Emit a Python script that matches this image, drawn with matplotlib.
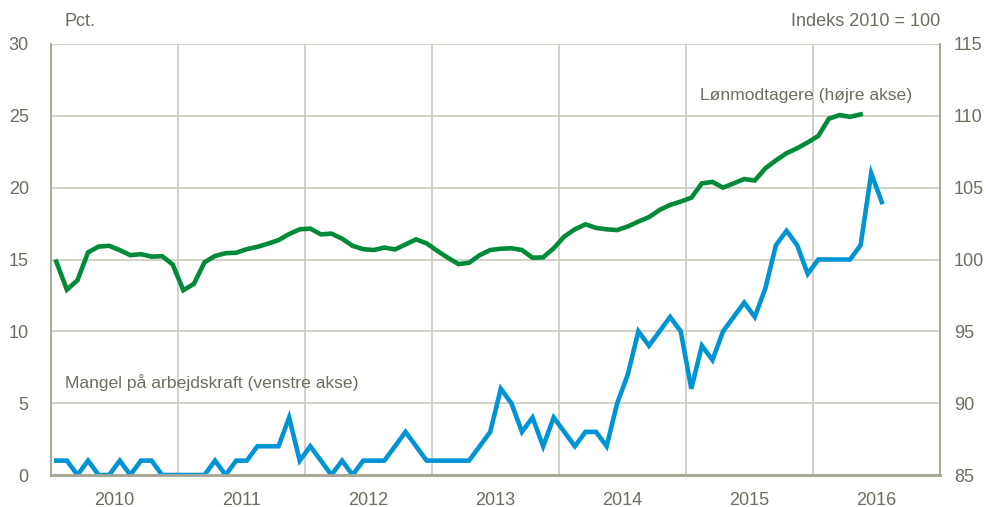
import matplotlib
matplotlib.use("Agg")
import matplotlib.pyplot as plt
import numpy as np

# Månedlige observationer fra januar 2010
mangel = [
    1, 1, 0, 1, 0, 0, 1, 0, 1, 1, 0, 0,          # 2010
    0, 0, 0, 1, 0, 1, 1, 2, 2, 2, 4, 1,          # 2011
    2, 1, 0, 1, 0, 1, 1, 1, 2, 3, 2, 1,          # 2012
    1, 1, 1, 1, 2, 3, 6, 5, 3, 4, 2, 4,          # 2013
    3, 2, 3, 3, 2, 5, 7, 10, 9, 10, 11, 10,      # 2014
    6, 9, 8, 10, 11, 12, 11, 13, 16, 17, 16, 14, # 2015
    15, 15, 15, 15, 16, 21, 19,                  # 2016
]
loenmodtagere = [
    99.85, 97.9, 98.55, 100.5, 100.9, 100.95, 100.65, 100.3, 100.37, 100.2, 100.23, 99.65,
    97.86, 98.3, 99.8, 100.25, 100.44, 100.47, 100.72, 100.88, 101.1, 101.35, 101.77, 102.1,
    102.15, 101.75, 101.8, 101.45, 100.95, 100.72, 100.66, 100.83, 100.7, 101.05, 101.4, 101.12,
    100.6, 100.12, 99.68, 99.77, 100.3, 100.66, 100.75, 100.78, 100.66, 100.12, 100.15, 100.78,
    101.6, 102.1, 102.45, 102.2, 102.1, 102.05, 102.3, 102.64, 102.95, 103.45, 103.8, 104.03,
    104.3, 105.3, 105.4, 105.0, 105.3, 105.6, 105.5, 106.35, 106.9, 107.4, 107.74, 108.15,
    108.6, 109.8, 110.05, 109.93, 110.1,
]
years = [2010, 2011, 2012, 2013, 2014, 2015, 2016]

TEXT = "#6d6d5e"
GRID = "#cbc9bc"
SPINE = "#a9a796"
BLUE = "#0094d4"
GREEN = "#008a3a"

plt.rcParams["font.family"] = ["Liberation Sans Narrow", "Liberation Sans", "DejaVu Sans"]
plt.rcParams["font.size"] = 13

fig = plt.figure(figsize=(9.87, 5.07), dpi=100)
ax = fig.add_axes([51 / 987, 32 / 507, 889 / 987, 431 / 507])
ax2 = ax.twinx()

x_blue = 2010 + (np.arange(len(mangel)) + 0.5) / 12
x_green = 2010 + (np.arange(len(loenmodtagere)) + 0.5) / 12

ax.plot(x_blue, mangel, color=BLUE, lw=3.3, solid_joinstyle="miter", zorder=3)
ax2.plot(x_green, loenmodtagere, color=GREEN, lw=3.3, solid_joinstyle="miter", zorder=3)

ax.set_xlim(2010, 2017)
ax.set_ylim(0, 30)
ax2.set_ylim(85, 115)
ax.set_yticks(np.arange(0, 31, 5))
ax2.set_yticks(np.arange(85, 116, 5))

ax.set_xticks(np.arange(2010, 2018))
ax.set_xticklabels([])
ax.set_xticks([y + 0.5 for y in years], minor=True)
ax.set_xticklabels([str(y) for y in years], minor=True)

ax.grid(True, which="major", color=GRID, lw=1.2, zorder=0)
ax.set_axisbelow(True)
ax.tick_params(which="both", length=0, colors=TEXT, labelsize=13)
ax.tick_params(axis="x", which="minor", pad=12)
ax.tick_params(axis="y", pad=16)
ax2.tick_params(length=0, colors=TEXT, labelsize=13, pad=10)

for a in (ax, ax2):
    for side, sp in a.spines.items():
        sp.set_color(SPINE)
        sp.set_linewidth(1.2)
    a.spines["top"].set_visible(False)
ax.spines["bottom"].set_linewidth(2.2)

fig.text(65 / 987, 1 - 22 / 507, "Pct.", color=TEXT, fontsize=13, va="center", ha="left")
fig.text(940 / 987, 1 - 22 / 507, "Indeks 2010 = 100", color=TEXT, fontsize=13, va="center", ha="right")
fig.text(700 / 987, 1 - 95 / 507, "Lønmodtagere (højre akse)", color=TEXT, fontsize=12.6, va="center", ha="left")
fig.text(65 / 987, 1 - 383 / 507, "Mangel på arbejdskraft (venstre akse)", color=TEXT, fontsize=12.6, va="center", ha="left")

fig.savefig("out.png", dpi=100)
